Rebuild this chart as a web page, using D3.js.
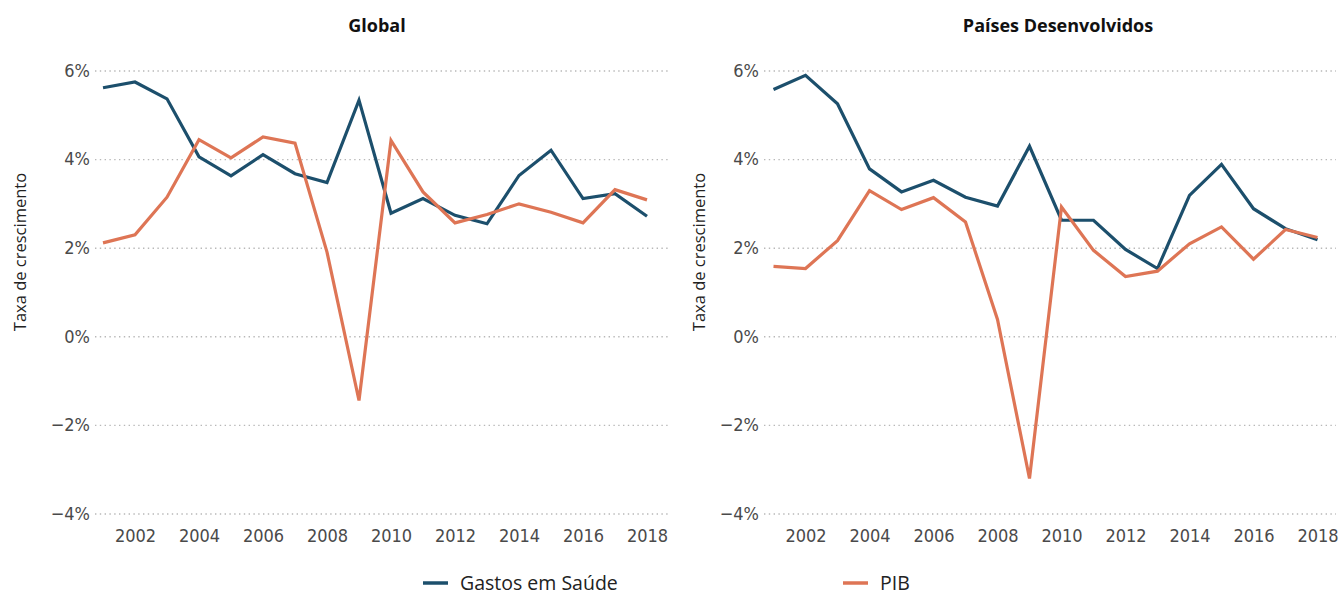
<!DOCTYPE html>
<html>
<head>
<meta charset="utf-8">
<script src="https://cdn.jsdelivr.net/npm/d3@7"></script>
<style>
  html, body { margin: 0; padding: 0; background: #ffffff; }
  svg { display: block; }
  .tick text { font-family: 'Liberation Sans Narrow', 'DejaVu Sans Condensed', 'Roboto', sans-serif; fill: #4a4a4a; }
</style>
</head>
<body>
<svg id="chart" width="1343" height="595"></svg>
<script>
// Annual growth rates (%), 2001–2018
const years = [2001, 2002, 2003, 2004, 2005, 2006, 2007, 2008, 2009,
               2010, 2011, 2012, 2013, 2014, 2015, 2016, 2017, 2018];

const globalSaude = [5.61, 5.74, 5.36, 4.05, 3.62, 4.10, 3.67, 3.47, 5.33,
                     2.78, 3.11, 2.73, 2.54, 3.63, 4.20, 3.11, 3.22, 2.71];
const globalPib   = [2.11, 2.29, 3.14, 4.44, 4.03, 4.50, 4.36, 1.90, -1.45,
                     4.42, 3.26, 2.56, 2.75, 2.99, 2.80, 2.56, 3.31, 3.08];

const desenvSaude = [5.57, 5.89, 5.25, 3.78, 3.26, 3.52, 3.14, 2.94, 4.29,
                     2.62, 2.62, 1.96, 1.53, 3.18, 3.88, 2.88, 2.43, 2.18];
const desenvPib   = [1.58, 1.53, 2.16, 3.29, 2.86, 3.13, 2.58, 0.38, -3.21,
                     2.92, 1.94, 1.35, 1.47, 2.09, 2.47, 1.74, 2.41, 2.23];

const yTicks = [-4, -2, 0, 2, 4, 6];
const xTicks = [2002, 2004, 2006, 2008, 2010, 2012, 2014, 2016, 2018];

const seriesNames = ["Gastos em Saúde", "PIB"];
const colors = { "Gastos em Saúde": "#1c4f6c", "PIB": "#de7555" };

const panels = [
  { title: "Global", saude: globalSaude, pib: globalPib,
    gridLeft: 95, gridRight: 668, xStart: 103, xEnd: 647, titleX: 377, axisTitleX: 20 },
  { title: "Países Desenvolvidos", saude: desenvSaude, pib: desenvPib,
    gridLeft: 764, gridRight: 1336, xStart: 773.5, xEnd: 1317.5, titleX: 1058, axisTitleX: 699 }
];

const svg = d3.select("#chart");
const yTop = 70.5, yBottom = 513.5;   // pixel rows of the 6% and −4% gridlines
const pct = d => d3.format("d")(d) + "%";

panels.forEach(p => {
  const x = d3.scaleLinear().domain([2001, 2018]).range([p.xStart, p.xEnd]);
  const y = d3.scaleLinear().domain([-4, 6]).range([yBottom, yTop]);
  const g = svg.append("g");

  // Title
  g.append("text")
    .attr("x", p.titleX).attr("y", 32)
    .attr("text-anchor", "middle")
    .style("font-family", "'Open Sans', 'Noto Sans', sans-serif")
    .style("font-weight", 700)
    .style("font-size", "18px")
    .style("fill", "#111")
    .text(p.title);

  // Y axis with dotted gridlines
  const yAxis = d3.axisLeft(y).tickValues(yTicks).tickFormat(pct)
    .tickSize(-(p.gridRight - p.gridLeft)).tickPadding(5);
  const ya = g.append("g")
    .attr("transform", `translate(${p.gridLeft},0)`)
    .call(yAxis);
  ya.select(".domain").remove();
  ya.selectAll(".tick line")
    .attr("stroke", "#b8b8b8")
    .attr("stroke-width", 1.4)
    .attr("stroke-dasharray", "1.4,3.4");
  ya.selectAll(".tick text").style("font-size", "18px");

  // X axis labels
  const xAxis = d3.axisBottom(x).tickValues(xTicks).tickFormat(d3.format("d"))
    .tickSize(0).tickPadding(0);
  const xa = g.append("g")
    .attr("transform", `translate(0,529)`)
    .call(xAxis);
  xa.select(".domain").remove();
  xa.selectAll(".tick text").style("font-size", "18px").attr("dy", "0.71em");

  // Y axis title
  g.append("text")
    .attr("transform", `translate(${p.axisTitleX},252) rotate(-90)`)
    .attr("text-anchor", "middle")
    .attr("dy", "0.35em")
    .style("font-family", "'Open Sans', 'Noto Sans', sans-serif")
    .style("font-size", "16.5px")
    .style("fill", "#222")
    .text("Taxa de crescimento");

  // Lines
  const line = d3.line().x((d, i) => x(years[i])).y(d => y(d));
  [["Gastos em Saúde", p.saude], ["PIB", p.pib]].forEach(([name, vals]) => {
    g.append("path")
      .datum(vals)
      .attr("fill", "none")
      .attr("stroke", colors[name])
      .attr("stroke-width", 3.2)
      .attr("stroke-linejoin", "miter")
      .attr("d", line);
  });
});

// Legend
const legendPos = [{ x: 423, name: seriesNames[0] }, { x: 843, name: seriesNames[1] }];
const lg = svg.append("g");
legendPos.forEach(l => {
  lg.append("line")
    .attr("x1", l.x).attr("x2", l.x + 25)
    .attr("y1", 583).attr("y2", 583)
    .attr("stroke", colors[l.name]).attr("stroke-width", 3.5);
  lg.append("text")
    .attr("x", l.x + 37).attr("y", 583)
    .attr("dy", "0.35em")
    .style("font-family", "'Open Sans', 'Noto Sans', sans-serif")
    .style("font-size", "19.5px")
    .style("fill", "#222")
    .text(l.name);
});
</script>
</body>
</html>
